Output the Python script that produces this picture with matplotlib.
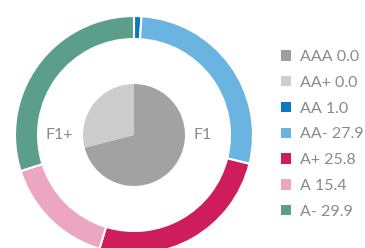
import matplotlib
matplotlib.use("Agg")
import matplotlib.pyplot as plt
from matplotlib.patches import Patch

plt.rcParams['font.family'] = ['Lato', 'DejaVu Sans']

ratings = ["AAA", "AA+", "AA", "AA-", "A+", "A", "A-"]
shares = [0.0, 0.0, 1.0, 27.9, 25.8, 15.4, 29.9]
colors = ["#9e9e9e", "#cecece", "#0b78bf", "#6ab4e2", "#cf1c5a", "#eda6c0", "#5b9f8a"]

inner_labels = ["F1", "F1+"]
inner_shares = [71.0, 29.0]
inner_colors = ["#a2a2a2", "#cccccc"]

text_col = "#8a8a8a"

W, H = 365, 248
fig = plt.figure(figsize=(W / 100, H / 100), dpi=100)
ax = fig.add_axes([0, 0, 1, 1])

cx, cy = 134, H - 135

# outer ring (zero shares are invisible, skip them)
ring = [(s, c) for s, c in zip(shares, colors) if s > 0]
ax.pie([s for s, c in ring], colors=[c for s, c in ring], radius=119,
       center=(cx, cy), startangle=90, counterclock=False,
       wedgeprops=dict(width=23, edgecolor="white", linewidth=1.5))

# inner pie
ax.pie(inner_shares, colors=inner_colors, radius=51, center=(cx, cy),
       startangle=90, counterclock=False)

ax.text(cx - 75, cy, inner_labels[1], ha="center", va="center",
        fontsize=11.5, color=text_col)
ax.text(cx + 69, cy, inner_labels[0], ha="center", va="center",
        fontsize=11.5, color=text_col)

ax.set_xlim(0, W)
ax.set_ylim(0, H)
ax.set_aspect("equal")
ax.axis("off")

handles = [Patch(facecolor=c, edgecolor="none") for c in colors]
labels = [f"{r} {s:.1f}" for r, s in zip(ratings, shares)]
leg = ax.legend(handles, labels, loc="upper left",
                bbox_to_anchor=(281 / W, 1 - 50 / H),
                bbox_transform=fig.transFigure, frameon=False,
                fontsize=11.5, handlelength=0.62, handleheight=0.62,
                handletextpad=0.55, labelspacing=0.74, borderpad=0,
                borderaxespad=0)
for t in leg.get_texts():
    t.set_color(text_col)

fig.savefig("out.png", dpi=100)
